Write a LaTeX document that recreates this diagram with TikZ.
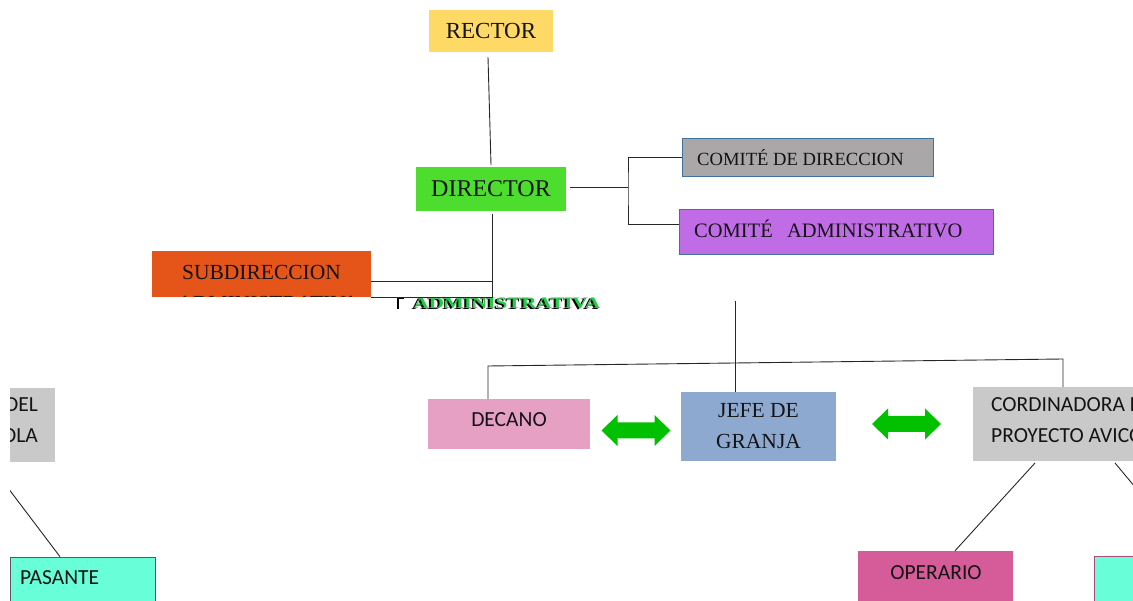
\documentclass[tikz,border=0pt]{standalone}
\usepackage{fontspec}
\setmainfont{Liberation Serif}
\newfontfamily\calib{Carlito}
\definecolor{rectorY}{HTML}{FFD966}
\definecolor{dirG}{HTML}{4CDD2E}
\definecolor{comGray}{HTML}{A9A7A7}
\definecolor{comPurple}{HTML}{C06CE6}
\definecolor{comBorder}{HTML}{41719C}
\definecolor{subOr}{HTML}{E55519}
\definecolor{decPink}{HTML}{E6A0C4}
\definecolor{jefeBlue}{HTML}{8EA9D0}
\definecolor{cordGray}{HTML}{C9C9C9}
\definecolor{pasAqua}{HTML}{68FFD8}
\definecolor{opPink}{HTML}{D55C98}
\definecolor{arrowG}{HTML}{00C000}
\definecolor{txt}{HTML}{141414}
\definecolor{admG}{HTML}{22CC44}
\begin{document}
\begin{tikzpicture}[x=1pt,y=-1pt,
  box/.style={rectangle, inner sep=0pt, anchor=center, text=txt},
  serifL/.style={font=\fontsize{24}{28}\selectfont},
  serifM/.style={font=\fontsize{20.5}{24}\selectfont},
  sansM/.style={font=\calib\fontsize{21.5}{31}\selectfont, text=txt},
  conn/.style={draw=black!85, line width=0.9pt},
  darrowfill/.style={fill=arrowG}
]
\useasboundingbox (0,0) rectangle (1133,601);
\clip (10,0) rectangle (1133,601);

% top
\node[box, fill=rectorY, minimum width=124pt, minimum height=42pt, font=\fontsize{23}{27}\selectfont] (RECTOR) at (491,31) {RECTOR};
\node[box, fill=dirG, minimum width=150pt, minimum height=44pt, serifL] (DIRECTOR) at (491,189) {DIRECTOR};
\node[box, fill=comGray, draw=comBorder, line width=0.8pt, minimum width=251pt, minimum height=38pt] (COMDIR) at (807.5,157) {};
\node[anchor=west, inner sep=0pt, text=txt, font=\fontsize{18.6}{22}\selectfont] (COMDIRt) at (697,158) {COMITÉ DE DIRECCION};
\node[box, fill=comPurple, draw=comBorder, line width=0.8pt, minimum width=314pt, minimum height=45pt] (COMADM) at (836,231.5) {};
\node[anchor=west, inner sep=0pt, text=txt, serifM] (COMADMt) at (694,229) {COMITÉ\hspace{0.7em}ADMINISTRATIVO};
\node[box, fill=subOr, minimum width=219pt, minimum height=46pt] (SUB) at (261.5,274) {};
\node[box, font=\fontsize{21.5}{25}\selectfont] (SUBt) at (261.5,272) {SUBDIRECCION};
\begin{scope}
  \clip (152,251) rectangle (371,297);
  \node[box, font=\fontsize{21.5}{25}\selectfont] (SUBt2) at (268,303.5) {ADMINISTRATIVA};
\end{scope}

% garbled label
\node[inner sep=0pt, text=black, font=\bfseries\fontsize{16}{18}\selectfont, xscale=1.32] (ADMk) at (505,304) {ADMINISTRATIVA};
\node[inner sep=0pt, text=admG, font=\bfseries\fontsize{16}{18}\selectfont, xscale=1.32] (ADMg) at (507,303) {ADMINISTRATIVA};
\draw[line width=1.4pt] (398,309) -- (398,298.5) -- (404,298.5);

% connectors top
\draw[conn] ([xshift=-3pt,yshift=-5pt]RECTOR.south) -- ([yshift=2pt]DIRECTOR.north);
\coordinate (j1) at (628,187);
\draw[conn] ([xshift=4pt]DIRECTOR.east |- j1) -- (j1);
\draw[conn] (COMDIR.west) -| (j1) |- ([yshift=7pt]COMADM.west);
\coordinate (s1) at (492,297);
\coordinate (s2) at (492,281);
\draw[conn] ([xshift=1pt,yshift=-3pt]DIRECTOR.south) -- (s1) -- (s1 -| SUB.east);
\draw[conn] (s2 -| SUB.east) -- (s2);

% lower boxes
\node[box, fill=decPink, minimum width=162pt, minimum height=50pt] (DECANO) at (509,424) {};
\node[inner sep=0pt, sansM] (DECANOt) at (509,420) {DECANO};
\node[box, fill=jefeBlue, minimum width=155pt, minimum height=69pt, align=center, font=\fontsize{21.5}{31}\selectfont] (JEFE) at (758.5,426.5) {JEFE DE\\GRANJA};
\node[box, fill=cordGray, minimum width=207pt, minimum height=74pt] (CORD) at (1076.5,424) {};
\node[anchor=north west, inner sep=0pt, sansM, align=left] (CORDt) at (991,397) {CORDINADORA DEL\\PROYECTO AVICOLA};
\node[box, fill=cordGray, minimum width=175pt, minimum height=74pt] (LEFT) at (-32.5,425) {};
\node[anchor=north east, inner sep=0pt, sansM, align=right] (LEFTt) at (38,398) {DEL\\OLA};

% double arrows
\coordinate (A1) at (636,430.5);
\coordinate (A2) at (906.5,424);
\foreach \c in {A1,A2}{
  \fill[darrowfill] ([xshift=-34.5pt]\c) -- ++(16,-15.5) -- ++(0,7.5) -- ++(37,0) -- ++(0,-7.5) -- ++(16,15.5) -- ++(-16,15.5) -- ++(0,-7.5) -- ++(-37,0) -- ++(0,7.5) -- cycle;
}

\node[box, fill=pasAqua, draw=black!65, line width=0.6pt, minimum width=145pt, minimum height=63pt] (PAS) at (82.5,588.5) {};
\node[anchor=west, inner sep=0pt, sansM] (PASt) at (20,578) {PASANTE};
\node[box, fill=opPink, minimum width=155pt, minimum height=69pt] (OPER) at (935.5,585.5) {};
\node[inner sep=0pt, sansM] (OPERt) at (936,573) {OPERARIO};
\node[box, fill=pasAqua, draw=opPink!80!black, line width=0.6pt, minimum width=110pt, minimum height=60pt] (AQ2) at (1149,586) {};

% lower connectors
\coordinate (t) at (735,301);
\coordinate (hl) at (488,366);
\coordinate (hr) at (1063,359);
\draw[conn] (t) -- (t |- JEFE.north);
\draw[conn] (hl |- DECANO.north) -- (hl) -- (hr) -- (hr |- CORD.north);
\coordinate (c1) at (1035,463);
\coordinate (o1) at (955,0);
\draw[conn] (c1) -- (o1 |- OPER.north);
\coordinate (c2) at (1115,463);
\draw[conn] (c2) -- (1140,493);
\coordinate (p1) at (60,0);
\draw[conn] (5,484) -- (p1 |- PAS.north);
\end{tikzpicture}
\end{document}
